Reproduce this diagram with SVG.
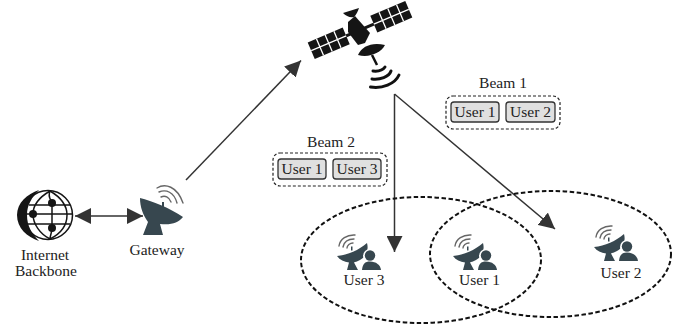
<svg xmlns="http://www.w3.org/2000/svg" width="684" height="331" viewBox="0 0 684 331">
<style>
text{font-family:"Liberation Serif","Times New Roman",serif;font-size:15.500px;fill:#222;text-anchor:middle}
.cell{fill:#e0e0e0;stroke:#333;stroke-width:1.3}
.grp{fill:none;stroke:#222;stroke-width:1.2;stroke-dasharray:3 2}
.zone{fill:none;stroke:#111;stroke-width:2;stroke-dasharray:4.500 2.500}
.conn{fill:none;stroke:#333;stroke-width:1.500}
.slate{fill:#37474f}
.arc{fill:none;stroke:#666;stroke-width:1.400;stroke-linecap:round}
.sat{fill:#151515}
.wave{fill:none;stroke:#111;stroke-width:3;stroke-linecap:round}
.globe{fill:none;stroke:#151515;stroke-width:1.500}
</style>
<defs>
<marker id="ah" markerUnits="userSpaceOnUse" markerWidth="17" markerHeight="16" refX="16" refY="8" orient="auto-start-reverse"><path d="M0 0L16 8L0 16Z" fill="#333"/></marker>
<g id="uicon">
<path class="arc" d="M2 13C3 6 10 1.500 18 2M6 14C7 9 11 6 17 6M10 15C10 12.500 13 10 16 10"/>
<path class="slate" d="M14 13.500h1.500v4h-1.500z"/>
<path class="slate" d="M0 23C11 22 22 17 30 10C32 17 29 24 23 27C20 28.500 18 29 17 29.500L21 37H10L12 29.500C7 29 3 27 0 23Z"/>
<circle cx="33" cy="23" r="7" fill="#fff"/>
<path d="M22 37C23 30 27 27 33 27C40 27 45 31 46 38H22Z" fill="#fff"/>
<circle class="slate" cx="33" cy="22.500" r="5.200"/>
<path class="slate" d="M25 37C25.500 31 28 28.500 33 28.500C39 28.500 43.500 32 44 37Z"/>
</g>
</defs>

<g id="connectors">
<path class="conn" d="M75 216H143" marker-start="url(#ah)" marker-end="url(#ah)"/>
<path class="conn" d="M186 180L301 60.500" marker-end="url(#ah)"/>
<path class="conn" d="M394.500 94V252" marker-end="url(#ah)"/>
<path class="conn" d="M394.500 94L555 229" marker-end="url(#ah)"/>
</g>

<g id="zones">
<ellipse class="zone" cx="421" cy="260" rx="120" ry="63"/>
<ellipse class="zone" cx="550.500" cy="254" rx="120.500" ry="63"/>
</g>

<g id="satellite">
<g transform="rotate(-23 360 30)">
<rect class="sat" x="307" y="21" width="38" height="18"/>
<rect class="sat" x="375" y="21" width="38" height="18"/>
<path d="M307 30H345M316.500 21V39M326 21V39M335.500 21V39M375 30H413M384.500 21V39M394 21V39M403.500 21V39" stroke="#fff" stroke-width="1.300"/>
<rect class="sat" x="345" y="28.500" width="30" height="3"/>
</g>
<path class="sat" d="M348 22L355 16L370 33L365 43L358 45L348 32Z"/>
<path class="sat" d="M343 13L359 8C358 11 356 15 354 17C350 18 346 16 343 13Z"/>
<path class="sat" d="M358 55C362 46 372 42 385 45C381 53 369 58 358 55Z"/>
<path d="M372 55L377 65" stroke="#111" stroke-width="2.500" fill="none"/>
<path class="wave" d="M373 71C378 71.500 383 70 385 67"/>
<path class="wave" d="M372 79C380 80 389 77 391 71"/>
<path class="wave" d="M370.500 87C382 89 395 84 399 75"/>
</g>

<g id="globe">
<circle class="globe" cx="48" cy="215" r="24.500"/>
<path class="sat" d="M39 190C27 194 17 203 17 215C17 228 27 237 39 241C32 234 27 226 27 215C27 205 32 197 39 190Z"/>
<path class="globe" d="M50 191C38 198 33 206 33 214C33 224 40 234 50 239M50 191C62 198 67 206 67 215C67 224 62 233 50 239M50 191C47 198 52 200 52 203C52 211 52 220 52 228C52 232 50 236 50 239M29 205H70M24 214H72M28 224H70"/>
<circle class="sat" cx="33" cy="214" r="4"/>
<circle class="sat" cx="52" cy="203" r="4"/>
<circle class="sat" cx="52" cy="228" r="4"/>
<text x="45" y="260">Internet</text>
<text x="46" y="276">Backbone</text>
</g>

<g id="gateway">
<path class="arc" d="M157 188C165 183 177 186 183 203M159 192C166 189 174 192 177 203M161 197C165 195 169 197 171 202"/>
<rect class="slate" x="162" y="202" width="2" height="5"/>
<path class="slate" d="M140 198C152 201 170 208 183 217C178 223 172 225 160 224L163 235H143L148 222C143 215 140 207 140 198Z"/>
<text x="157" y="255">Gateway</text>
</g>

<g id="user3"><use href="#uicon" x="337" y="233"/><text x="364" y="285">User 3</text></g>
<g id="user1"><use href="#uicon" x="453" y="233"/><text x="479.500" y="285">User 1</text></g>
<g id="user2"><use href="#uicon" x="594" y="224"/><text x="621" y="278">User 2</text></g>

<g id="beam1">
<text x="503" y="88">Beam 1</text>
<rect class="grp" x="446" y="96" width="114" height="33" rx="7"/>
<rect class="cell" x="451" y="102" width="48" height="20" rx="3"/>
<rect class="cell" x="506" y="102" width="49" height="20" rx="3"/>
<text x="475" y="117">User 1</text>
<text x="530.500" y="117">User 2</text>
</g>
<g id="beam2">
<text x="331" y="147">Beam 2</text>
<rect class="grp" x="273" y="153" width="114" height="33" rx="7"/>
<rect class="cell" x="278" y="159" width="48" height="20" rx="3"/>
<rect class="cell" x="333" y="159" width="48" height="20" rx="3"/>
<text x="302" y="174">User 1</text>
<text x="357" y="174">User 3</text>
</g>
</svg>
